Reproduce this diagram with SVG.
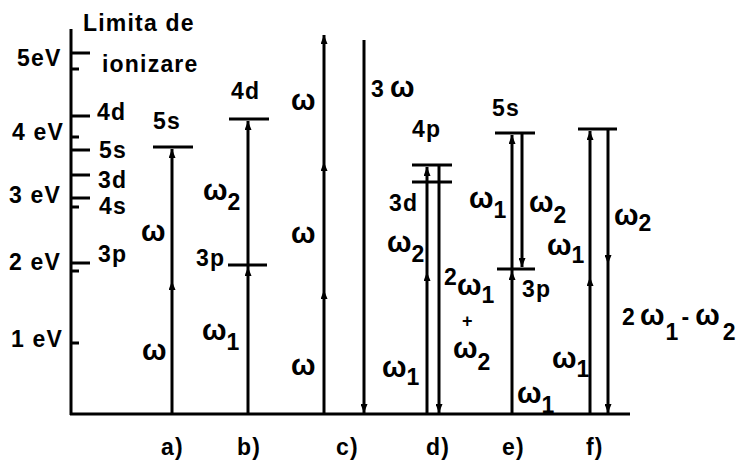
<svg xmlns="http://www.w3.org/2000/svg" width="739" height="464" viewBox="0 0 739 464">
<style>
.t{font-family:"Liberation Sans",Arial,sans-serif;font-weight:bold;font-size:23px;fill:#000;letter-spacing:1.2px}
.w{font-family:"Liberation Sans",Arial,sans-serif;font-weight:bold;font-size:29px;fill:#000;letter-spacing:0}
.s{font-size:23px;letter-spacing:1.2px}
.ln{stroke:#000;stroke-width:3;fill:none}
.ar{stroke:#000;stroke-width:3;fill:none;marker-end:url(#ah)}
</style>
<defs>
<marker id="ah" markerUnits="userSpaceOnUse" markerWidth="9" markerHeight="7" viewBox="0 0 9 7" refX="9" refY="3.5" orient="auto"><path d="M0,0 L9,3.5 L0,7 Z" fill="#000"/></marker>
</defs>
<rect width="739" height="464" fill="#fff"/>
<g id="axis">
<path class="ln" d="M71,29 V415 M70,414 H630"/>
<path class="ln" d="M71,53 H90 M71,116 H90 M71,150 H90 M71,175 H90 M71,198 H90 M71,263 H90 M71,69 H79 M71,137 H79 M71,207 H79 M71,271 H79 M71,343 H79"/>
<text class="t" x="83" y="31">Limita de</text>
<text class="t" x="102" y="72">ionizare</text>
<text class="t" x="17" y="66">5eV</text>
<text class="t" x="12" y="140">4 eV</text>
<text class="t" x="9" y="203">3 eV</text>
<text class="t" x="9" y="270">2 eV</text>
<text class="t" x="11" y="347">1 eV</text>
<text class="t" x="97" y="120">4d</text>
<text class="t" x="99" y="158">5s</text>
<text class="t" x="98" y="188">3d</text>
<text class="t" x="99" y="214">4s</text>
<text class="t" x="98" y="262">3p</text>
</g>
<g id="col-a">
<path class="ln" d="M153,147 H193"/>
<text class="t" x="153" y="129">5s</text>
<text class="w" x="141" y="241">ω</text>
<text class="w" x="142" y="360">ω</text>
<text class="t" x="161" y="455">a)</text>
</g>
<g id="col-b">
<path class="ln" d="M229,119 H269 M228,265 H267"/>
<text class="t" x="231" y="99">4d</text>
<text class="t" x="196" y="266">3p</text>
<text class="w" x="203" y="200">ω<tspan class="s" dy="10">2</tspan></text>
<text class="w" x="202" y="340">ω<tspan class="s" dy="10">1</tspan></text>
<text class="t" x="237" y="455">b)</text>
</g>
<g id="col-c">
<text class="w" x="291" y="110">ω</text>
<text class="w" x="291" y="243">ω</text>
<text class="w" x="291" y="375">ω</text>
<text class="t" x="371" y="97">3<tspan class="w" dx="5">ω</tspan></text>
<text class="t" x="336" y="455">c)</text>
</g>
<g id="col-d">
<path class="ln" d="M412,165 H452 M412,182 H452"/>
<text class="t" x="412" y="137">4p</text>
<text class="t" x="389" y="211">3d</text>
<text class="w" x="387" y="252">ω<tspan class="s" dy="10">2</tspan></text>
<text class="t" x="444" y="285">2<tspan class="w" dx="-1" dy="10">ω</tspan><tspan dy="8">1</tspan></text>
<text class="t" x="462" y="327" style="font-size:18px">+</text>
<text class="w" x="453" y="358">ω<tspan class="s" dy="12">2</tspan></text>
<text class="w" x="382" y="377">ω<tspan class="s" dy="8">1</tspan></text>
<text class="t" x="426" y="455">d)</text>
</g>
<g id="col-e">
<path class="ln" d="M495,133 H535 M497,269 H535"/>
<text class="t" x="492" y="116">5s</text>
<text class="t" x="522" y="297">3p</text>
<text class="w" x="529" y="212">ω<tspan class="s" dy="11">2</tspan></text>
<text class="w" x="469" y="208">ω<tspan class="s" dy="10">1</tspan></text>
<text class="w" x="517" y="403">ω<tspan class="s" dy="10">1</tspan></text>
<text class="t" x="502" y="455">e)</text>
</g>
<g id="col-f">
<path class="ln" d="M578,129 H617"/>
<text class="w" x="547" y="255">ω<tspan class="s" dy="8">1</tspan></text>
<text class="w" x="552" y="368">ω<tspan class="s" dy="9">1</tspan></text>
<text class="w" x="614" y="225">ω<tspan class="s" dy="6">2</tspan></text>
<text class="t" x="622" y="325">2<tspan class="w" dx="4">ω</tspan><tspan dx="1" dy="15">1</tspan><tspan dx="2" dy="-15">-</tspan><tspan class="w" dx="5">ω</tspan><tspan dx="3" dy="15">2</tspan></text>
<text class="t" x="586" y="455">f)</text>
</g>
<g id="connectors">
<path class="ar" d="M172,414 V281"/><path class="ar" d="M172,281 V149"/>
<path class="ar" d="M248,414 V267"/><path class="ar" d="M248,267 V121"/>
<path class="ar" d="M324,414 V290"/><path class="ar" d="M324,290 V162"/><path class="ar" d="M324,162 V35"/>
<path class="ar" d="M364,40 V413"/>
<path class="ar" d="M427,414 V272"/><path class="ar" d="M427,272 V167"/>
<path class="ar" d="M439,165 V413"/>
<path class="ar" d="M512,414 V271"/><path class="ar" d="M512,271 V135"/>
<path class="ar" d="M522,133 V267"/>
<path class="ar" d="M590,414 V277"/><path class="ar" d="M590,277 V131"/>
<path class="ar" d="M608,129 V264"/><path class="ar" d="M608,264 V413"/>
</g>
</svg>
